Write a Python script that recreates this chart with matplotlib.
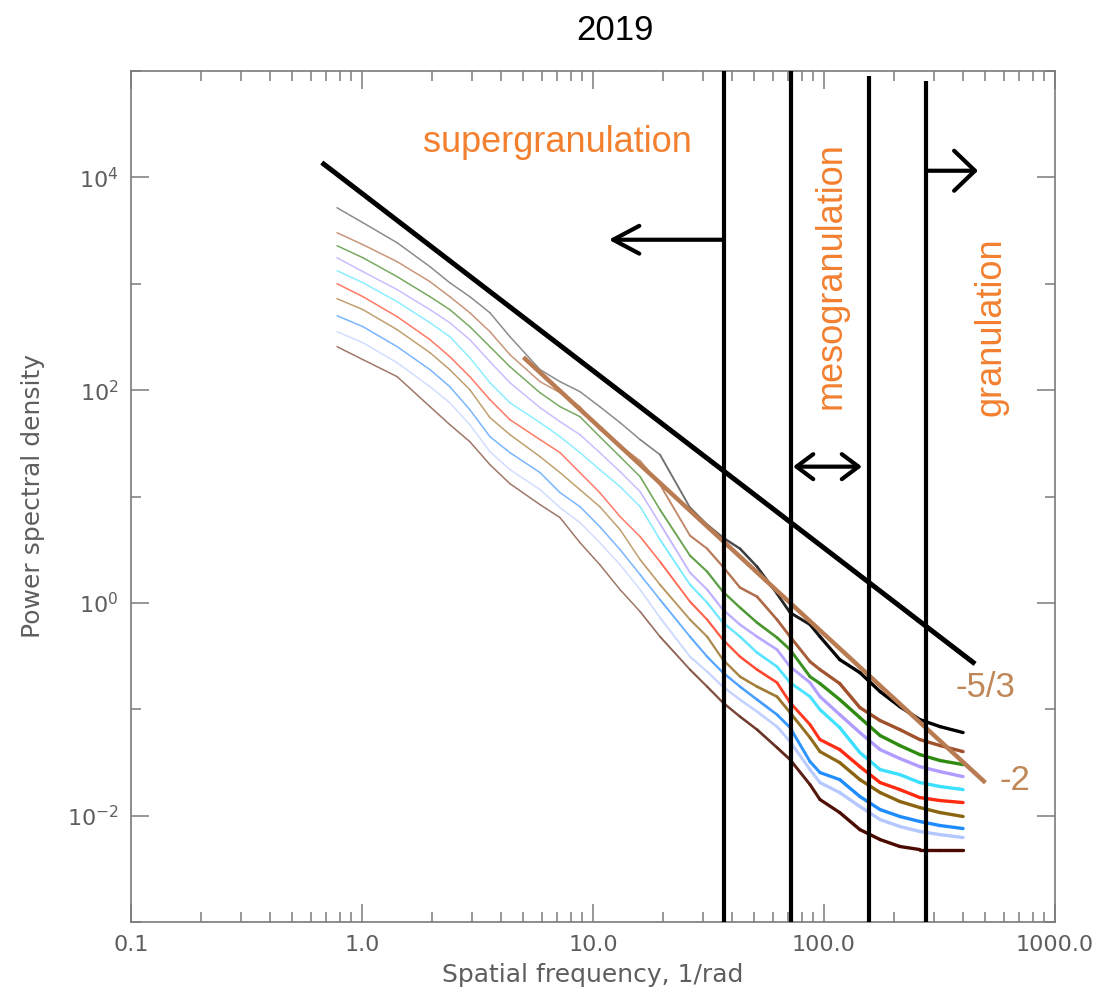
import numpy as np
import matplotlib
matplotlib.use("Agg")
import matplotlib.pyplot as plt
from matplotlib.collections import LineCollection
from matplotlib.colors import to_rgb
from matplotlib.ticker import FixedLocator, FixedFormatter, NullFormatter

# Spatial frequency grid (1/rad) shared by all spectra
freq = [0.78, 1.01, 1.42, 1.97, 2.40, 2.93, 3.58, 4.37, 5.90, 7.20, 8.78,
        10.7, 13.1, 16.0, 19.5, 26.3, 31.2, 36.5, 43.3, 51.3, 62.6, 71.3,
        87.0, 96.1, 117, 143, 175, 213, 260, 318, 400]

# log10 of the power spectral density, one list per spectrum (top to bottom)
psd_black = [3.715, 3.574, 3.386, 3.161, 3.010, 2.879, 2.728, 2.503, 2.193, 2.080, 1.986,
             1.845, 1.695, 1.535, 1.394, 0.896, 0.736, 0.614, 0.510, 0.341, 0.087, -0.091,
             -0.204, -0.317, -0.533, -0.655, -0.834, -0.975, -1.097, -1.163, -1.219]
psd_sienna = [3.480, 3.368, 3.208, 3.020, 2.879, 2.728, 2.550, 2.334, 2.080, 1.976, 1.845,
              1.629, 1.478, 1.337, 1.112, 0.633, 0.510, 0.341, 0.144, 0.059, -0.157, -0.317,
              -0.552, -0.627, -0.758, -0.984, -1.106, -1.191, -1.285, -1.341, -1.398]
psd_green = [3.358, 3.245, 3.067, 2.879, 2.757, 2.597, 2.409, 2.221, 1.976, 1.845, 1.751,
             1.563, 1.375, 1.187, 0.877, 0.445, 0.294, 0.106, -0.044, -0.185, -0.326, -0.439,
             -0.693, -0.758, -0.909, -1.078, -1.247, -1.341, -1.426, -1.482, -1.520]
psd_lavender = [3.245, 3.114, 2.945, 2.757, 2.634, 2.475, 2.268, 2.070, 1.836, 1.704, 1.582,
                1.413, 1.234, 1.046, 0.745, 0.285, 0.125, -0.063, -0.204, -0.317, -0.439, -0.599,
                -0.749, -0.881, -1.050, -1.219, -1.379, -1.463, -1.539, -1.586, -1.633]
psd_cyan = [3.123, 3.010, 2.832, 2.634, 2.503, 2.305, 2.070, 1.882, 1.695, 1.563, 1.413,
            1.253, 1.093, 0.905, 0.595, 0.172, 0.003, -0.185, -0.317, -0.467, -0.599, -0.749,
            -0.881, -1.003, -1.172, -1.407, -1.567, -1.614, -1.689, -1.726, -1.755]
psd_red = [3.001, 2.879, 2.691, 2.475, 2.315, 2.127, 1.911, 1.723, 1.535, 1.413, 1.225,
           1.037, 0.811, 0.623, 0.388, 0.012, -0.157, -0.345, -0.505, -0.627, -0.749, -0.937,
           -1.144, -1.285, -1.379, -1.539, -1.689, -1.755, -1.830, -1.858, -1.877]
psd_olive = [2.860, 2.757, 2.569, 2.352, 2.193, 2.005, 1.742, 1.582, 1.375, 1.225, 1.065,
             0.905, 0.689, 0.407, 0.172, -0.157, -0.317, -0.533, -0.693, -0.787, -0.881, -1.031,
             -1.266, -1.398, -1.501, -1.661, -1.783, -1.867, -1.924, -1.971, -2.008]
psd_blue = [2.700, 2.597, 2.409, 2.193, 2.033, 1.817, 1.563, 1.413, 1.225, 1.037, 0.905,
            0.717, 0.501, 0.266, 0.031, -0.317, -0.505, -0.655, -0.787, -0.909, -1.050, -1.172,
            -1.492, -1.595, -1.661, -1.820, -1.943, -2.008, -2.055, -2.093, -2.121]
psd_lightblue = [2.550, 2.446, 2.258, 2.033, 1.882, 1.676, 1.422, 1.253, 1.065, 0.896, 0.755,
                 0.567, 0.360, 0.125, -0.138, -0.505, -0.646, -0.787, -0.909, -1.022, -1.163, -1.304,
                 -1.567, -1.689, -1.783, -1.914, -2.037, -2.102, -2.149, -2.178, -2.206]
psd_darkbrown = [2.409, 2.287, 2.127, 1.845, 1.676, 1.516, 1.300, 1.121, 0.924, 0.802, 0.567,
                 0.360, 0.125, -0.082, -0.317, -0.627, -0.787, -0.937, -1.069, -1.191, -1.360, -1.473,
                 -1.708, -1.849, -1.971, -2.131, -2.225, -2.290, -2.319, -2.319, -2.319]

spectra = [psd_black, psd_sienna, psd_green, psd_lavender, psd_cyan,
           psd_red, psd_olive, psd_blue, psd_lightblue, psd_darkbrown]
spectra_colors = ["#000000", "#A0502A", "#2E8B10", "#B09CFF", "#3CE0FF",
                  "#FF2A10", "#8B6410", "#1E8CFF", "#B4C8FF", "#4A0A00"]
# Tints used where the spectra are smooth and thin (low frequencies)
spectra_light = ["#8c8c8c", "#C8967A", "#78AA62", "#CBBDFF", "#8CEEFF",
                 "#FF7A66", "#C0A070", "#7AB6FF", "#D2DEFF", "#A07868"]
smooth_until, noisy_from = 15.0, 120.0   # frequency band over which the noise grows

# Reference power laws: amplitude at f = 1 and frequency span
kolmogorov_amp, kolmogorov_slope, kolmogorov_span = 7080.0, -5.0 / 3.0, (0.67, 451.0)
steep_amp, steep_slope, steep_span = 5100.0, -2.0, (5.0, 500.0)

# Scale boundaries (1/rad) and the top of each boundary line
boundaries = [36.9, 71.9, 156.7, 276.7]
boundary_tops = [1e5, 1e5, 9.0e4, 8.0e4]

x_ticks = [0.1, 1.0, 10.0, 100.0, 1000.0]
x_ticklabels = ["0.1", "1.0", "10.0", "100.0", "1000.0"]
y_ticks = [1e-2, 1e0, 1e2, 1e4]
y_ticklabels = [r"$10^{-2}$", r"$10^{0}$", r"$10^{2}$", r"$10^{4}$"]
y_minor = [1e-3, 1e-1, 1e1, 1e3, 1e5]

axis_gray = "#7a7a7a"
label_gray = "#5e5e5e"
orange = "#F2802F"
tan = "#C08858"
anno_font = ["Liberation Sans", "DejaVu Sans"]

plt.rcParams["font.family"] = ["DejaVu Sans"]

fig = plt.figure(figsize=(11.09, 10.01), dpi=100)
ax = fig.add_axes([0.1181, 0.0789, 0.8332, 0.8501])
ax.set_xscale("log")
ax.set_yscale("log")
ax.set_xlim(0.1, 1000)
ax.set_ylim(1e-3, 1e5)

f_arr = np.asarray(freq)
f_mid = np.sqrt(f_arr[:-1] * f_arr[1:])
ramp = np.clip((np.log10(f_mid) - np.log10(smooth_until))
               / (np.log10(noisy_from) - np.log10(smooth_until)), 0, 1)
widths = 1.1 + 1.3 * ramp
for vals, col, light in zip(spectra, spectra_colors, spectra_light):
    p = 10 ** np.asarray(vals)
    pts = np.column_stack([f_arr, p])
    segs = np.stack([pts[:-1], pts[1:]], axis=1)
    c0, c1 = np.array(to_rgb(light)), np.array(to_rgb(col))
    seg_colors = c0[None, :] * (1 - ramp[:, None]) + c1[None, :] * ramp[:, None]
    lc = LineCollection(segs, colors=seg_colors, linewidths=widths,
                        capstyle="round", joinstyle="round", zorder=2)
    ax.add_collection(lc)

fk = np.array(kolmogorov_span)
ax.plot(fk, kolmogorov_amp * fk ** kolmogorov_slope, color="black", lw=3.6,
        solid_capstyle="butt", zorder=4)
fs = np.array(steep_span)
ax.plot(fs, steep_amp * fs ** steep_slope, color="#B97B52", lw=3.2,
        solid_capstyle="butt", zorder=4)

ax.vlines(boundaries, 1e-3, boundary_tops, colors="black", lw=3.0, zorder=5)

head = dict(color="black", lw=3.0, shrinkA=0, shrinkB=0, mutation_scale=20)
ax.annotate("", xy=(11.7, 2596), xytext=(boundaries[0], 2596),
            arrowprops=dict(arrowstyle="->,head_length=0.94,head_width=0.5", **head))
ax.annotate("", xy=(464, 11560), xytext=(boundaries[3], 11560),
            arrowprops=dict(arrowstyle="->,head_length=0.75,head_width=0.72", **head))
ax.annotate("", xy=(146, 19.1), xytext=(73.5, 19.1),
            arrowprops=dict(arrowstyle="<->,head_length=0.6,head_width=0.45", **head))

ax.text(7.05, 21200, "supergranulation", color=orange, fontsize=26,
        family=anno_font, ha="center", va="center")
ax.text(107.2, 1192, "mesogranulation", color=orange, fontsize=26,
        family=anno_font, ha="center", va="center", rotation=90)
ax.text(528, 395, "granulation", color=orange, fontsize=26,
        family=anno_font, ha="center", va="center", rotation=90)
ax.text(498, 0.16, "-5/3", color=tan, fontsize=25, family=anno_font,
        ha="center", va="center")
ax.text(671, 0.0215, "-2", color=tan, fontsize=25, family=anno_font,
        ha="center", va="center")

# Axes decoration
ax.xaxis.set_major_locator(FixedLocator(x_ticks))
ax.xaxis.set_major_formatter(FixedFormatter(x_ticklabels))
ax.xaxis.set_minor_formatter(NullFormatter())
ax.yaxis.set_major_locator(FixedLocator(y_ticks))
ax.yaxis.set_major_formatter(FixedFormatter(y_ticklabels))
ax.yaxis.set_minor_locator(FixedLocator(y_minor))
ax.yaxis.set_minor_formatter(NullFormatter())
ax.tick_params(which="both", direction="in", top=True, right=True,
               color=axis_gray, labelcolor=label_gray, labelsize=16, width=1.1)
ax.tick_params(which="major", length=13, pad=9)
ax.tick_params(which="minor", length=7)
for sp in ax.spines.values():
    sp.set_color(axis_gray)
    sp.set_linewidth(1.2)

fig.text(0.534, 0.026, "Spatial frequency, 1/rad", fontsize=18, color=label_gray,
         ha="center", va="center")
fig.text(0.030, 0.504, "Power spectral density", fontsize=18, color=label_gray,
         ha="center", va="center", rotation=90)
fig.text(0.5546, 0.970, "2019", fontsize=25, color="black", family=anno_font,
         ha="center", va="center")

fig.savefig("out.png", dpi=100)
